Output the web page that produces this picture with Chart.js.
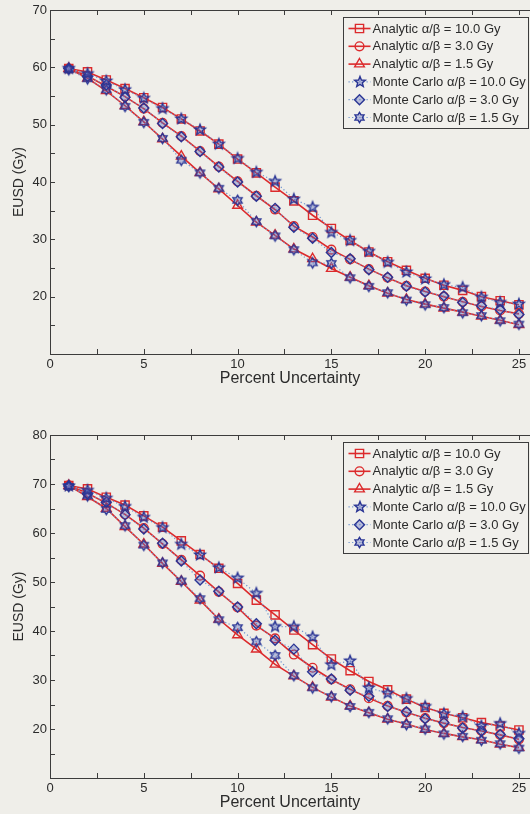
<!DOCTYPE html>
<html>
<head>
<meta charset="utf-8">
<script src="https://cdn.jsdelivr.net/npm/chart.js"></script>
<style>
    body { margin: 0; background: #efeee9; }
    canvas { display: block; }
</style>
</head>
<body>
<canvas id="upper" width="530" height="407"></canvas>
<canvas id="lower" width="530" height="407"></canvas>
<script>
// percent uncertainty on the x axis
const uncertainty = [1, 2, 3, 4, 5, 6, 7, 8, 9, 10, 11, 12, 13, 14, 15, 16, 17, 18, 19, 20, 21, 22, 23, 24, 25];
const xTickValues = [0, 2.5, 5, 7.5, 10, 12.5, 15, 17.5, 20, 22.5, 25];
const xTickLabels = [0, 5, 10, 15, 20, 25];

const seriesLabels = [
    'Analytic \u03b1/\u03b2 = 10.0 Gy',
    'Analytic \u03b1/\u03b2 = 3.0 Gy',
    'Analytic \u03b1/\u03b2 = 1.5 Gy',
    'Monte Carlo \u03b1/\u03b2 = 10.0 Gy',
    'Monte Carlo \u03b1/\u03b2 = 3.0 Gy',
    'Monte Carlo \u03b1/\u03b2 = 1.5 Gy'
];

// upper panel (EUSD in Gy)
const upperYTicks = [10, 15, 20, 25, 30, 35, 40, 45, 50, 55, 60, 65, 70];
const upperYLabels = [20, 30, 40, 50, 60, 70];
const upperAnalytic10 = [59.8, 59.2, 57.8, 56.3, 54.7, 53.0, 51.0, 48.9, 46.6, 44.0, 41.6, 39.1, 36.7, 34.2, 31.9, 29.8, 27.8, 26.1, 24.6, 23.2, 22.0, 21.1, 20.0, 19.3, 18.6];
const upperAnalytic3 = [59.8, 58.5, 56.7, 54.9, 52.8, 50.3, 48.0, 45.4, 42.7, 40.1, 37.6, 35.2, 32.3, 30.4, 28.2, 26.5, 24.8, 23.3, 21.9, 20.9, 20.0, 19.1, 18.3, 17.6, 17.0];
const upperAnalytic15 = [59.8, 58.1, 55.9, 53.3, 50.5, 47.5, 44.5, 41.6, 38.8, 35.9, 33.0, 30.7, 28.3, 26.6, 24.9, 23.4, 21.9, 20.6, 19.5, 18.7, 18.0, 17.3, 16.6, 15.9, 15.1];
const upperMC10 = [59.8, 58.9, 57.6, 56.1, 54.6, 52.8, 51.0, 49.1, 46.6, 44.1, 41.7, 40.1, 37.0, 35.6, 31.2, 29.8, 27.9, 26.0, 24.3, 23.1, 22.1, 21.6, 19.9, 19.0, 18.7];
const upperMC3 = [59.8, 58.4, 56.9, 54.8, 52.9, 50.2, 47.9, 45.3, 42.6, 40.0, 37.5, 35.4, 32.1, 30.2, 27.7, 26.6, 24.7, 23.4, 21.8, 20.8, 20.1, 19.0, 18.4, 17.7, 16.9];
const upperMC15 = [59.6, 58.0, 56.1, 53.2, 50.4, 47.6, 43.8, 41.6, 38.9, 36.8, 33.1, 30.6, 28.2, 25.9, 25.8, 23.3, 21.8, 20.7, 19.4, 18.6, 18.1, 17.2, 16.7, 15.8, 15.2];

// lower panel (EUSD in Gy)
const lowerYTicks = [10, 15, 20, 25, 30, 35, 40, 45, 50, 55, 60, 65, 70, 75, 80];
const lowerYLabels = [20, 30, 40, 50, 60, 70, 80];
const lowerAnalytic10 = [69.7, 69.0, 67.3, 65.7, 63.5, 61.2, 58.4, 55.6, 52.8, 49.7, 46.3, 43.3, 40.2, 37.2, 34.3, 31.9, 29.7, 28.0, 26.1, 24.4, 23.2, 22.3, 21.3, 20.6, 19.8];
const lowerAnalytic3 = [69.7, 68.1, 66.1, 63.8, 61.0, 57.8, 54.5, 51.3, 48.0, 44.8, 41.1, 38.5, 35.2, 32.5, 30.1, 28.1, 26.3, 24.7, 23.4, 22.2, 21.2, 20.3, 19.6, 18.8, 17.9];
const lowerAnalytic15 = [69.7, 67.4, 65.0, 61.3, 57.7, 53.8, 50.1, 46.3, 42.4, 39.2, 36.3, 33.2, 30.8, 28.5, 26.5, 24.7, 23.3, 22.0, 21.0, 19.9, 19.1, 18.4, 17.8, 16.9, 16.2];
const lowerMC10 = [69.6, 68.7, 67.1, 65.4, 63.2, 61.1, 57.7, 55.5, 52.9, 50.8, 47.7, 40.9, 40.9, 38.8, 33.1, 33.9, 28.4, 27.3, 26.2, 24.6, 23.1, 22.5, 20.6, 21.1, 19.1];
const lowerMC3 = [69.6, 68.0, 66.3, 63.7, 60.8, 57.9, 54.3, 50.4, 48.1, 44.9, 41.5, 38.1, 36.3, 31.7, 30.2, 27.9, 26.7, 24.6, 23.5, 22.1, 21.3, 20.2, 19.6, 18.9, 18.0];
const lowerMC15 = [69.5, 67.6, 64.8, 61.5, 57.5, 53.9, 50.2, 46.6, 42.3, 40.7, 37.8, 35.0, 30.9, 28.4, 26.6, 24.6, 23.4, 22.1, 20.9, 20.0, 19.0, 18.5, 17.7, 17.0, 16.1];

const FONT = '"Liberation Sans", Arial, Helvetica, sans-serif';
const RED = '#dc2a2c';
const BLUE = '#2a3594';
const BLUE_FILL = 'rgba(80, 95, 185, 0.35)';
const DOTS = '#6d93cf';
const AXIS = '#3c3c3c';
const TEXT = '#2b2b2b';

// star shaped marker drawn once onto a small canvas
function starMarker(points, outer, inner) {
    const s = Math.ceil(outer * 2 + 4);
    const c = document.createElement('canvas');
    c.width = c.height = s;
    const g = c.getContext('2d');
    g.translate(s / 2, s / 2);
    g.beginPath();
    for (let i = 0; i < points * 2; i++) {
        const r = i % 2 ? inner : outer;
        const a = -Math.PI / 2 + i * Math.PI / points;
        g.lineTo(r * Math.cos(a), r * Math.sin(a));
    }
    g.closePath();
    g.fillStyle = BLUE_FILL;
    g.fill();
    g.strokeStyle = BLUE;
    g.lineWidth = 1.4;
    g.stroke();
    return c;
}
const pentagram = starMarker(5, 5.6, 2.4);
const hexagram = starMarker(6, 5.2, 3.0);

const styles = [
    { pointStyle: 'rect', radius: 5.8 },
    { pointStyle: 'circle', radius: 4.4 },
    { pointStyle: 'triangle', radius: 5.6 },
    { pointStyle: pentagram, radius: 5.6 },
    { pointStyle: 'rectRot', radius: 5 },
    { pointStyle: hexagram, radius: 5.2 }
];

function makeDatasets(series) {
    return series.map((values, i) => {
        const analytic = i < 3;
        return {
            label: seriesLabels[i],
            data: values.map((v, k) => ({ x: uncertainty[k], y: v })),
            order: analytic ? 1 : 0,
            borderColor: analytic ? RED : DOTS,
            borderWidth: analytic ? 1.6 : 1.2,
            borderDash: analytic ? [] : [1.2, 2.4],
            pointStyle: styles[i].pointStyle,
            pointRadius: styles[i].radius,
            pointBorderColor: analytic ? RED : BLUE,
            pointBackgroundColor: analytic ? 'rgba(0,0,0,0)' : BLUE_FILL,
            pointBorderWidth: 1.4,
            tension: 0,
            fill: false
        };
    });
}

// legend marker, same shapes as the data points
function drawMarker(ctx, ds, x, y) {
    const st = ds.pointStyle;
    const r = ds.pointRadius;
    if (st instanceof HTMLCanvasElement) {
        ctx.drawImage(st, Math.round(x - st.width / 2), Math.round(y - st.height / 2));
        return;
    }
    ctx.save();
    ctx.strokeStyle = ds.pointBorderColor;
    ctx.fillStyle = ds.pointBackgroundColor;
    ctx.lineWidth = ds.pointBorderWidth;
    ctx.setLineDash([]);
    ctx.beginPath();
    if (st === 'rect') {
        const h = r * Math.SQRT1_2;
        ctx.rect(x - h, y - h, 2 * h, 2 * h);
    } else if (st === 'circle') {
        ctx.arc(x, y, r, 0, Math.PI * 2);
    } else if (st === 'triangle') {
        for (let i = 0; i < 3; i++) {
            const a = -Math.PI / 2 + i * 2 * Math.PI / 3;
            ctx.lineTo(x + r * Math.cos(a), y + r * Math.sin(a));
        }
        ctx.closePath();
    } else if (st === 'rectRot') {
        ctx.moveTo(x, y - r); ctx.lineTo(x + r, y); ctx.lineTo(x, y + r); ctx.lineTo(x - r, y);
        ctx.closePath();
    }
    ctx.fill();
    ctx.stroke();
    ctx.restore();
}

// axes box: left, top and bottom lines with inward ticks
const framePlugin = {
    id: 'frame',
    beforeDatasetsDraw(chart) {
        const { ctx, chartArea: a, scales } = chart;
        ctx.save();
        ctx.strokeStyle = AXIS;
        ctx.lineWidth = 1;
        ctx.beginPath();
        ctx.moveTo(a.right, a.top + 0.5);
        ctx.lineTo(a.left + 0.5, a.top + 0.5);
        ctx.lineTo(a.left + 0.5, a.bottom + 0.5);
        ctx.lineTo(a.right, a.bottom + 0.5);
        scales.x.ticks.forEach(t => {
            const px = Math.round(scales.x.getPixelForValue(t.value)) + 0.5;
            ctx.moveTo(px, a.bottom); ctx.lineTo(px, a.bottom - 5);
            ctx.moveTo(px, a.top); ctx.lineTo(px, a.top + 5);
        });
        scales.y.ticks.forEach(t => {
            const py = Math.round(scales.y.getPixelForValue(t.value)) + 0.5;
            ctx.moveTo(a.left, py); ctx.lineTo(a.left + 5, py);
        });
        ctx.stroke();
        ctx.restore();
    }
};

// boxed legend in the upper right corner
const boxLegend = {
    id: 'boxLegend',
    afterDraw(chart) {
        const { ctx, chartArea: a } = chart;
        const sets = chart.data.datasets;
        ctx.save();
        ctx.font = '13px ' + FONT;
        const textW = Math.max(...sets.map(d => ctx.measureText(d.label).width));
        const rowH = 17.8;
        const w = Math.round(textW + 32);
        const h = Math.round(sets.length * rowH + 4);
        const x0 = Math.round(a.right - 2 - w) + 0.5;
        const y0 = Math.round(a.top + 7) + 0.5;
        ctx.fillStyle = '#f1f0ec';
        ctx.fillRect(x0, y0, w, h);
        ctx.strokeStyle = AXIS;
        ctx.lineWidth = 1;
        ctx.strokeRect(x0, y0, w, h);
        sets.forEach((ds, i) => {
            const cy = y0 + 11 + i * rowH;
            ctx.strokeStyle = ds.borderColor;
            ctx.lineWidth = ds.borderWidth;
            ctx.setLineDash(ds.borderDash);
            ctx.beginPath();
            ctx.moveTo(x0 + 5, cy);
            ctx.lineTo(x0 + 27, cy);
            ctx.stroke();
            ctx.setLineDash([]);
            drawMarker(ctx, ds, x0 + 16, cy);
            ctx.fillStyle = TEXT;
            ctx.textBaseline = 'middle';
            ctx.textAlign = 'left';
            ctx.fillText(ds.label, x0 + 29, cy + 0.5);
        });
        ctx.restore();
    }
};

function makeChart(id, series, yTicks, yLabels, padTop, xAxisHeight, titlePad) {
    return new Chart(document.getElementById(id), {
        type: 'line',
        data: { datasets: makeDatasets(series) },
        options: {
            responsive: false,
            devicePixelRatio: 1,
            animation: false,
            layout: { autoPadding: false, padding: { top: padTop, left: 0, right: 0, bottom: 0 } },
            plugins: { legend: { display: false }, tooltip: { enabled: false } },
            scales: {
                x: {
                    type: 'linear',
                    min: 0,
                    max: 25.59,
                    grid: { display: false, drawTicks: false },
                    border: { display: false },
                    afterBuildTicks: s => { s.ticks = xTickValues.map(v => ({ value: v })); },
                    afterFit: s => { s.height = xAxisHeight; s.paddingLeft = 0; s.paddingRight = 0; },
                    ticks: {
                        autoSkip: false,
                        maxRotation: 0,
                        padding: 4,
                        color: TEXT,
                        font: { family: FONT, size: 13, lineHeight: 1 },
                        callback: v => xTickLabels.includes(v) ? String(v) : ''
                    },
                    title: {
                        display: true,
                        text: 'Percent Uncertainty',
                        color: TEXT,
                        font: { family: FONT, size: 16, lineHeight: 1.2 },
                        padding: { top: 0, bottom: titlePad }
                    }
                },
                y: {
                    type: 'linear',
                    min: yTicks[0],
                    max: yTicks[yTicks.length - 1],
                    grid: { display: false, drawTicks: false },
                    border: { display: false },
                    afterBuildTicks: s => { s.ticks = yTicks.map(v => ({ value: v })); },
                    afterFit: s => { s.width = 50; s.paddingTop = 0; s.paddingBottom = 0; },
                    ticks: {
                        autoSkip: false,
                        padding: 3,
                        color: TEXT,
                        font: { family: FONT, size: 13 },
                        callback: v => yLabels.includes(v) ? String(v) : ''
                    },
                    title: {
                        display: true,
                        text: 'EUSD (Gy)',
                        color: TEXT,
                        font: { family: FONT, size: 14, lineHeight: 1.2 },
                        padding: { top: 11, bottom: 0 }
                    }
                }
            }
        },
        plugins: [framePlugin, boxLegend]
    });
}

makeChart('upper',
    [upperAnalytic10, upperAnalytic3, upperAnalytic15, upperMC10, upperMC3, upperMC15],
    upperYTicks, upperYLabels, 10, 53, 18.4);
makeChart('lower',
    [lowerAnalytic10, lowerAnalytic3, lowerAnalytic15, lowerMC10, lowerMC3, lowerMC15],
    lowerYTicks, lowerYLabels, 28, 36, 1.4);
</script>
</body>
</html>
